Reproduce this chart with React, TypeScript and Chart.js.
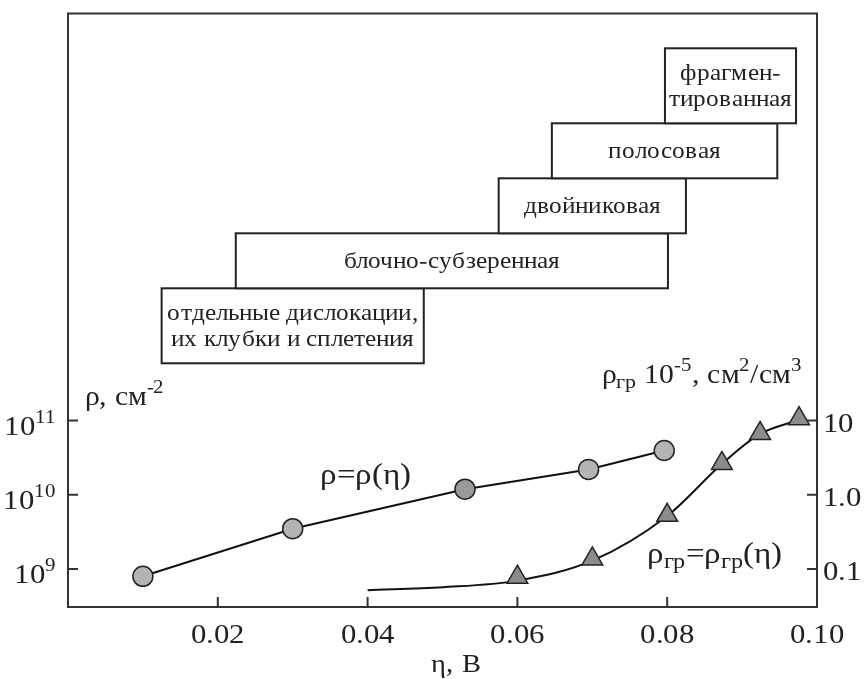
import React, { useEffect, useRef } from "react";
import { Chart, registerables } from "chart.js";
Chart.register(...registerables);

// ---- data ----
const etaTicks = [0.02, 0.04, 0.06, 0.08, 0.1];
const etaTickLabels = ["0.02", "0.04", "0.06", "0.08", "0.10"];
const rhoTicks = [1e9, 1e10, 1e11];
const rhoTickExponents = ["9", "10", "11"];
const rhoGrTicks = [0.1, 1, 10];
const rhoGrTickLabels = ["0.1", "1.0", "10"];

const rhoEta = [0.01, 0.03, 0.053, 0.0695, 0.0796];
const rhoValues = [8.0e8, 3.5e9, 1.19e10, 2.2e10, 3.95e10];

const rhoGrEta = [0.06, 0.07, 0.08, 0.0873, 0.0924, 0.0976];
const rhoGrValues = [0.078, 0.137, 0.53, 2.65, 6.7, 10.6];

const rhoGrCurveEta = [0.04, 0.05, 0.06, 0.07, 0.08, 0.0873, 0.0924, 0.0976];
const rhoGrCurveValues = [0.052, 0.057, 0.07, 0.13, 0.52, 2.6, 6.6, 10.2];

const structureNames = [
  ["отдельные дислокации,", "их клубки и сплетения"],
  ["блочно-субзеренная"],
  ["двойниковая"],
  ["полосовая"],
  ["фрагмен-", "тированная"],
];
const structureStart = [0.0125, 0.0224, 0.0575, 0.0646, 0.0797];
const structureEnd = [0.0475, 0.0801, 0.0825, 0.0947, 0.0972];

// ---- style ----
const FONT = 'LSerif, "Liberation Serif", serif';
let SX = 1.1;
const INK = "#222";
const AXIS = "#333";

type Seg = { t: string; s: number; dy?: number };

function richWidth(ctx: CanvasRenderingContext2D, segs: Seg[]) {
  let w = 0;
  for (const g of segs) {
    ctx.font = `${g.s}px ${FONT}`;
    w += ctx.measureText(g.t).width * SX;
  }
  return w;
}

function drawRich(
  ctx: CanvasRenderingContext2D,
  segs: Seg[],
  x: number,
  y: number,
  align: "left" | "right" | "center" = "left"
) {
  const w = richWidth(ctx, segs);
  let cx = align === "left" ? x : align === "right" ? x - w : x - w / 2;
  ctx.save();
  ctx.fillStyle = INK;
  ctx.textBaseline = "alphabetic";
  ctx.textAlign = "left";
  for (const g of segs) {
    ctx.font = `${g.s}px ${FONT}`;
    ctx.save();
    ctx.translate(cx, y + (g.dy || 0));
    ctx.scale(SX, 1);
    ctx.fillText(g.t, 0, 0);
    ctx.restore();
    cx += ctx.measureText(g.t).width * SX;
  }
  ctx.restore();
}

const decorPlugin = {
  id: "decor",
  afterDraw(chart: any) {
    const ctx: CanvasRenderingContext2D = chart.ctx;
    const { left, right, top, bottom } = chart.chartArea;
    const xs = chart.scales.x;
    const yl = chart.scales.y;
    const yr = chart.scales.y2;

    // frame
    ctx.save();
    ctx.strokeStyle = AXIS;
    ctx.lineWidth = 2;
    ctx.strokeRect(left, top, right - left, bottom - top);

    // inward ticks
    const TL = 10;
    ctx.beginPath();
    etaTicks.forEach((v) => {
      const px = xs.getPixelForValue(v);
      ctx.moveTo(px, bottom);
      ctx.lineTo(px, bottom - TL);
    });
    rhoTicks.forEach((v) => {
      const py = yl.getPixelForValue(v);
      ctx.moveTo(left, py);
      ctx.lineTo(left + TL, py);
    });
    rhoGrTicks.forEach((v) => {
      const py = yr.getPixelForValue(v);
      ctx.moveTo(right, py);
      ctx.lineTo(right - TL, py);
    });
    ctx.stroke();
    ctx.restore();

    // tick labels
    etaTicks.forEach((v, i) => {
      drawRich(ctx, [{ t: etaTickLabels[i], s: 28 }], xs.getPixelForValue(v), bottom + 36, "center");
    });
    rhoTicks.forEach((v, i) => {
      const py = yl.getPixelForValue(v);
      drawRich(
        ctx,
        [
          { t: "10", s: 28 },
          { t: rhoTickExponents[i], s: 19, dy: -12 },
        ],
        left - 12,
        py + 14,
        "right"
      );
    });
    rhoGrTicks.forEach((v, i) => {
      const py = yr.getPixelForValue(v);
      drawRich(ctx, [{ t: rhoGrTickLabels[i], s: 28 }], right + 6, py + 11, "left");
    });

    // axis titles and annotations
    drawRich(ctx, [{ t: "η, В", s: 26 }], (left + right) / 2 + 13, bottom + 65, "center");
    drawRich(
      ctx,
      [
        { t: "ρ, см", s: 27 },
        { t: "-2", s: 19, dy: -12 },
      ],
      left + 17,
      405
    );
    drawRich(
      ctx,
      [
        { t: "ρ", s: 27 },
        { t: "гр", s: 20, dy: 5 },
        { t: " 10", s: 27 },
        { t: "-5", s: 19, dy: -12 },
        { t: ", см", s: 27 },
        { t: "2", s: 19, dy: -12 },
        { t: "/см", s: 27 },
        { t: "3", s: 19, dy: -12 },
      ],
      right - 15,
      383,
      "right"
    );
    drawRich(ctx, [{ t: "ρ=ρ(η)", s: 30 }], 320, 484);
    drawRich(
      ctx,
      [
        { t: "ρ", s: 30 },
        { t: "гр", s: 22, dy: 5 },
        { t: "=ρ", s: 30 },
        { t: "гр", s: 22, dy: 5 },
        { t: "(η)", s: 30 },
      ],
      647,
      563
    );

    // structure boxes, stacked as a staircase
    let yBottom = yl.getPixelForValue(5.9e11);
    ctx.save();
    ctx.strokeStyle = INK;
    ctx.lineWidth = 2;
    ctx.fillStyle = "#fff";
    structureNames.forEach((lines, i) => {
      const h = lines.length > 1 ? 75 : 55;
      const x0 = xs.getPixelForValue(structureStart[i]);
      const x1 = xs.getPixelForValue(structureEnd[i]);
      const y0 = yBottom - h;
      ctx.fillRect(x0, y0, x1 - x0, h);
      ctx.strokeRect(x0, y0, x1 - x0, h);
      const cx = (x0 + x1) / 2;
      const cy = (y0 + yBottom) / 2;
      const lh = 26;
      lines.forEach((ln, k) => {
        const ly = cy + (k - (lines.length - 1) / 2) * lh + 7;
        drawRich(ctx, [{ t: ln, s: 23 }], cx, ly, "center");
      });
      yBottom = y0;
    });
    ctx.restore();
  },
};

export default function App() {
  const ref = useRef<HTMLCanvasElement | null>(null);
  useEffect(() => {
    if (!ref.current) return;
    document.body.style.margin = "0";
    const style = document.createElement("style");
    style.textContent =
      '@font-face{font-family:"LSerif";src:local("Liberation Serif"),local("LiberationSerif"),local("LiberationSerif-Regular"),local("Times New Roman"),local("Tinos");}';
    document.head.appendChild(style);
    let chart: any = null;
    let cancelled = false;
    const make = () => {
      if (cancelled || !ref.current) return;
      chart = new Chart(ref.current, {
        type: "scatter",
        data: {
          datasets: [
            {
              label: "ρгр points",
              data: rhoGrEta.map((x, i) => ({ x, y: rhoGrValues[i] })),
              yAxisID: "y2",
              showLine: false,
              pointStyle: "triangle",
              pointRadius: 12,
              pointBackgroundColor: "#8c8c8c",
              pointBorderColor: INK,
              pointBorderWidth: 1.5,
            },
            {
              label: "ρгр curve",
              data: rhoGrCurveEta.map((x, i) => ({ x, y: rhoGrCurveValues[i] })),
              yAxisID: "y2",
              showLine: true,
              cubicInterpolationMode: "monotone",
              borderColor: "#111",
              borderWidth: 2,
              pointRadius: 0,
            },
            {
              label: "ρ",
              data: rhoEta.map((x, i) => ({ x, y: rhoValues[i] })),
              yAxisID: "y",
              showLine: true,
              borderColor: "#111",
              borderWidth: 2,
              pointRadius: 10,
              pointBackgroundColor: ["#b4b4b4", "#b4b4b4", "#9a9a9a", "#b4b4b4", "#b4b4b4"],
              pointBorderColor: INK,
              pointBorderWidth: 1.5,
            },
          ],
        },
        options: {
          animation: false,
          responsive: true,
          maintainAspectRatio: false,
          layout: { padding: { top: 12, left: 0, right: 0, bottom: 0 } },
          plugins: { legend: { display: false }, tooltip: { enabled: false } },
          scales: {
            x: {
              type: "linear",
              min: 0,
              max: 0.1,
              grid: { display: false },
              border: { display: false },
              ticks: { display: false, stepSize: 0.02 },
              afterFit: (s: any) => {
                s.height = 72;
              },
            },
            y: {
              type: "logarithmic",
              position: "left",
              min: Math.pow(10, 8.49),
              max: Math.pow(10, 16.48),
              grid: { display: false },
              border: { display: false },
              ticks: { display: false },
              afterBuildTicks: (s: any) => {
                s.ticks = rhoTicks.map((v) => ({ value: v }));
              },
              afterFit: (s: any) => {
                s.width = 68;
              },
            },
            y2: {
              type: "logarithmic",
              position: "right",
              min: Math.pow(10, -1.51),
              max: Math.pow(10, 6.48),
              grid: { display: false },
              border: { display: false },
              ticks: { display: false },
              afterBuildTicks: (s: any) => {
                s.ticks = rhoGrTicks.map((v) => ({ value: v }));
              },
              afterFit: (s: any) => {
                s.width = 48;
              },
            },
          },
        },
        plugins: [decorPlugin],
      } as any);
    };
    const fonts: any = (document as any).fonts;
    if (fonts && fonts.load) {
      fonts
        .load('28px "LSerif"')
        .then((f: any[]) => {
          if (!f || f.length === 0) SX = 1.0;
          make();
        })
        .catch(() => {
          SX = 1.0;
          make();
        });
    } else {
      make();
    }
    return () => {
      cancelled = true;
      if (chart) chart.destroy();
      style.remove();
    };
  }, []);
  return (
    <div style={{ position: "fixed", left: 0, top: 0, width: 865, height: 679, background: "#fff" }}>
      <canvas ref={ref} />
    </div>
  );
}
